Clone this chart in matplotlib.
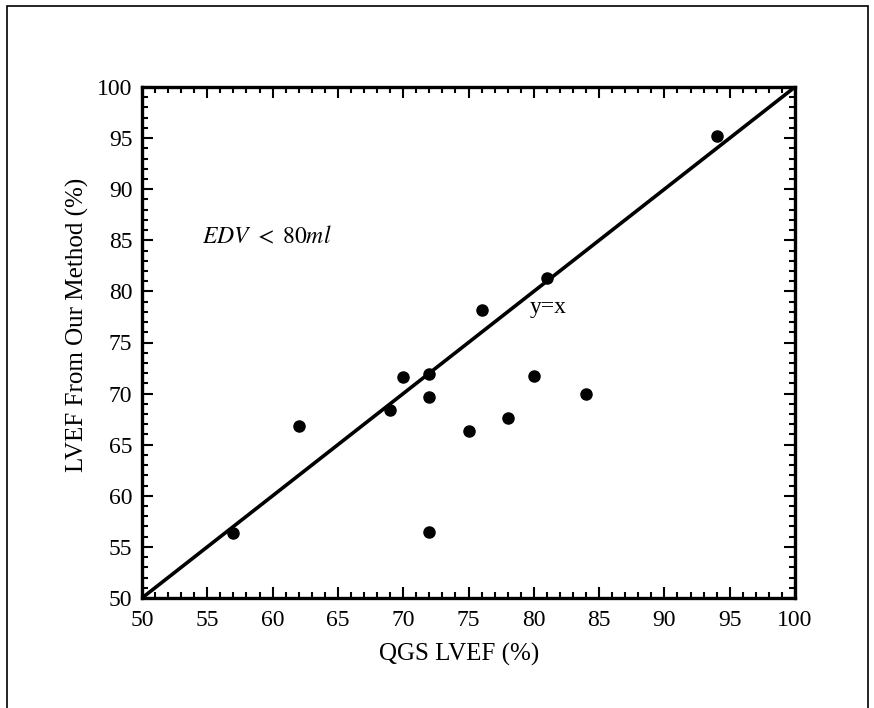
import matplotlib
matplotlib.use("Agg")
import matplotlib.pyplot as plt
from matplotlib.patches import Rectangle
from matplotlib.ticker import MultipleLocator

qgs = [57, 62, 69, 70, 72, 72, 72, 75, 76, 78, 80, 81, 84, 94]
ours = [56.4, 66.8, 68.4, 71.6, 71.9, 69.7, 56.5, 66.3, 78.2, 67.6, 71.7, 81.3, 70.0, 95.2]
ticks = [50, 55, 60, 65, 70, 75, 80, 85, 90, 95, 100]

plt.rcParams['font.family'] = ['Liberation Serif', 'DejaVu Serif']
plt.rcParams['mathtext.fontset'] = 'stix'
fig = plt.figure(figsize=(8.74, 7.08), dpi=100)
fig.patches.append(Rectangle((7/874, -0.1), (868-7)/874, (708-6)/708 + 0.1,
                             transform=fig.transFigure, fill=False,
                             edgecolor='black', linewidth=1.2))
ax = fig.add_axes([142/874, 1-598/708, (795-142)/874, (598-87)/708])
ax.plot([50, 100], [50, 100], color='black', linewidth=2.6, solid_capstyle='butt')
ax.plot(qgs, ours, 'o', color='black', markersize=8)
ax.set_xlim(50, 100)
ax.set_ylim(50, 100)
ax.set_xticks(ticks)
ax.set_yticks(ticks)
ax.xaxis.set_minor_locator(MultipleLocator(1))
ax.yaxis.set_minor_locator(MultipleLocator(1))
ax.tick_params(which='both', direction='in', top=True, right=True, width=1.5, labelsize=17)
ax.tick_params(which='major', length=8)
ax.tick_params(which='minor', length=4)
ax.tick_params(axis='x', pad=9)
ax.tick_params(axis='y', pad=7)
for s in ax.spines.values():
    s.set_linewidth(2.4)
ax.set_xlabel('QGS LVEF (%)', fontsize=18, labelpad=8, x=0.485)
ax.set_ylabel('LVEF From Our Method (%)', fontsize=18, labelpad=6, y=0.535)
ax.text(54.6, 85.3, r'$EDV\ <\ 80ml$', fontsize=17, va='center', ha='left')
ax.text(79.7, 78.4, 'y=x', fontsize=17, va='center', ha='left')
fig.savefig('out.png', dpi=100)
